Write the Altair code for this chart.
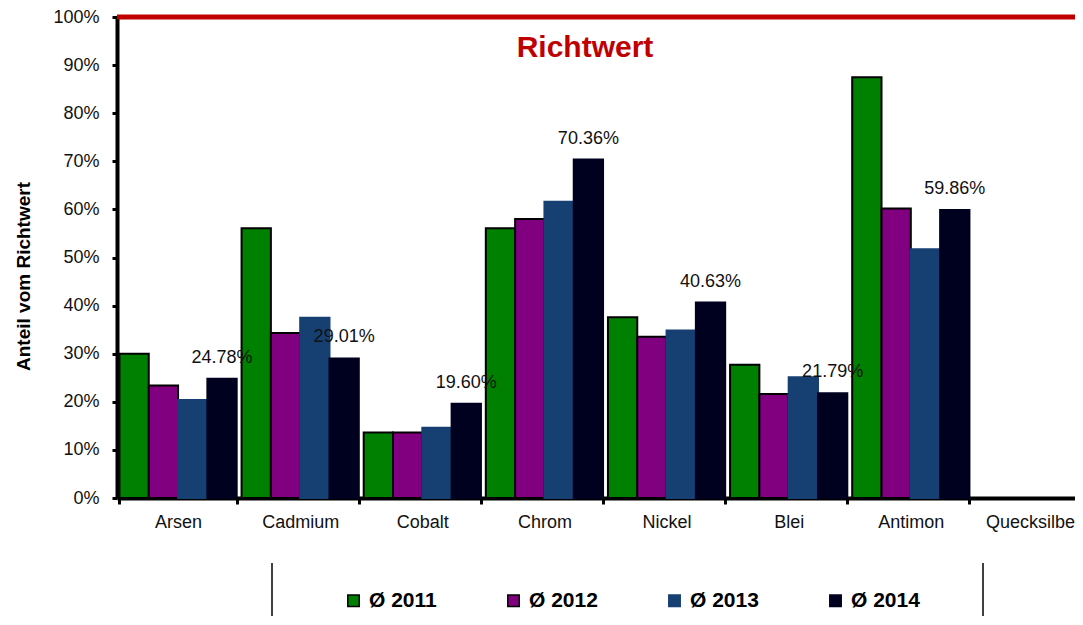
import altair as alt
import pandas as pd

categories = ["Arsen", "Cadmium", "Cobalt", "Chrom", "Nickel", "Blei", "Antimon", "Quecksilber"]
years = ["Ø 2011", "Ø 2012", "Ø 2013", "Ø 2014"]
v2011 = [30.0, 56.1, 13.6, 56.1, 37.6, 27.7, 87.5, 0.0]
v2012 = [23.4, 34.3, 13.6, 58.0, 33.5, 21.6, 60.2, 0.0]
v2013 = [20.4, 37.5, 14.6, 61.6, 34.8, 25.1, 51.7, 0.0]
v2014 = [24.78, 29.01, 19.60, 70.36, 40.63, 21.79, 59.86, 0.0]
y_ticks = [0, 10, 20, 30, 40, 50, 60, 70, 80, 90, 100]

fill_colors = ["#008000", "#800080", "#163f72", "#00001f"]
stroke_colors = ["#000000", "#000000", "#163f72", "#00001f"]

rows = []
for yr, vals in zip(years, [v2011, v2012, v2013, v2014]):
    for c, v in zip(categories, vals):
        rows.append({"Element": c, "Jahr": yr, "Wert": v})
df = pd.DataFrame(rows)

W, H = 977, 481
FONT = "Liberation Sans"

xoff = alt.XOffset("Jahr:N", scale=alt.Scale(domain=years, paddingInner=0, paddingOuter=0))
y_scale = alt.Scale(domain=[0, 100], nice=False)

bars = alt.Chart(df).transform_filter(alt.datum.Wert > 0).mark_bar(strokeWidth=2).encode(
    x=alt.X("Element:N", sort=categories,
            scale=alt.Scale(domain=categories, paddingInner=0.04, paddingOuter=0.02),
            axis=alt.Axis(title=None, labelAngle=0, labelFont=FONT, labelFontSize=18, labelColor="#111111",
                          labelPadding=9, tickBand="extent", tickSize=6, tickWidth=3, tickColor="black",
                          domainColor="black", domainWidth=4, grid=False, labelOverlap=False,
                          labelBound=False)),
    xOffset=xoff,
    y=alt.Y("Wert:Q", scale=y_scale,
            axis=alt.Axis(title="Anteil vom  Richtwert", values=y_ticks, labelExpr="datum.value + '%'",
                          labelFont=FONT, labelFontSize=18, labelColor="#111111", labelPadding=13,
                          tickSize=5, tickWidth=3, tickColor="black", domainColor="black", domainWidth=4,
                          grid=True, gridColor="white", gridWidth=1.5,
                          titleFont=FONT, titleFontSize=19, titleFontWeight="bold", titleColor="black",
                          titleAngle=-90, titleX=-94, titleY=259, titleAlign="center",
                          titleBaseline="middle")),
    fill=alt.Fill("Jahr:N", scale=alt.Scale(domain=years, range=fill_colors),
                  legend=alt.Legend(title=None, orient="none", legendX=226, legendY=573, direction="horizontal",
                                    columns=4, columnPadding=66, symbolType="square", symbolSize=130,
                                    symbolStrokeWidth=1.5, labelFont=FONT, labelFontSize=21,
                                    labelFontWeight="bold", labelColor="black", labelOffset=5, padding=0)),
    stroke=alt.Stroke("Jahr:N", scale=alt.Scale(domain=years, range=stroke_colors), legend=None),
)

labels = alt.Chart(df).transform_filter(
    alt.datum.Jahr == "Ø 2014"
).transform_filter(
    alt.datum.Wert > 0
).transform_calculate(
    label="format(datum.Wert, '.2f') + '%'"
).mark_text(font=FONT, fontSize=18, color="#111111", dy=-21, baseline="middle").encode(
    x=alt.X("Element:N", sort=categories), xOffset=xoff, y=alt.Y("Wert:Q", scale=y_scale),
    text="label:N",
)

limit_df = pd.DataFrame({"Grenze": [100], "Text": ["Richtwert"]})
limit_line = alt.Chart(limit_df).mark_rule(color="#c00000", strokeWidth=5).encode(
    y=alt.Y("Grenze:Q", scale=y_scale)
)
limit_text = alt.Chart(limit_df).mark_text(font=FONT, fontSize=30, fontWeight="bold", color="#c00000",
                                            align="center", baseline="alphabetic").encode(
    x=alt.value(468), y=alt.value(40), text="Text:N"
)

box_left = alt.Chart(limit_df).mark_rule(color="black", strokeWidth=1.5).encode(
    x=alt.value(155), y=alt.value(546), y2=alt.value(620)
)
box_right = alt.Chart(limit_df).mark_rule(color="black", strokeWidth=1.5).encode(
    x=alt.value(866), y=alt.value(546), y2=alt.value(620)
)

chart = alt.layer(bars, labels, limit_line, limit_text, box_left, box_right).properties(
    width=W, height=H,
    autosize=alt.AutoSizeParams(type="none"),
    padding={"left": 109, "top": 9, "right": -19, "bottom": 118},
).configure_view(fill="#ffffcc", stroke=None).configure(background="white")

chart.save("out.html", embed_options={"renderer": "svg", "actions": False})
